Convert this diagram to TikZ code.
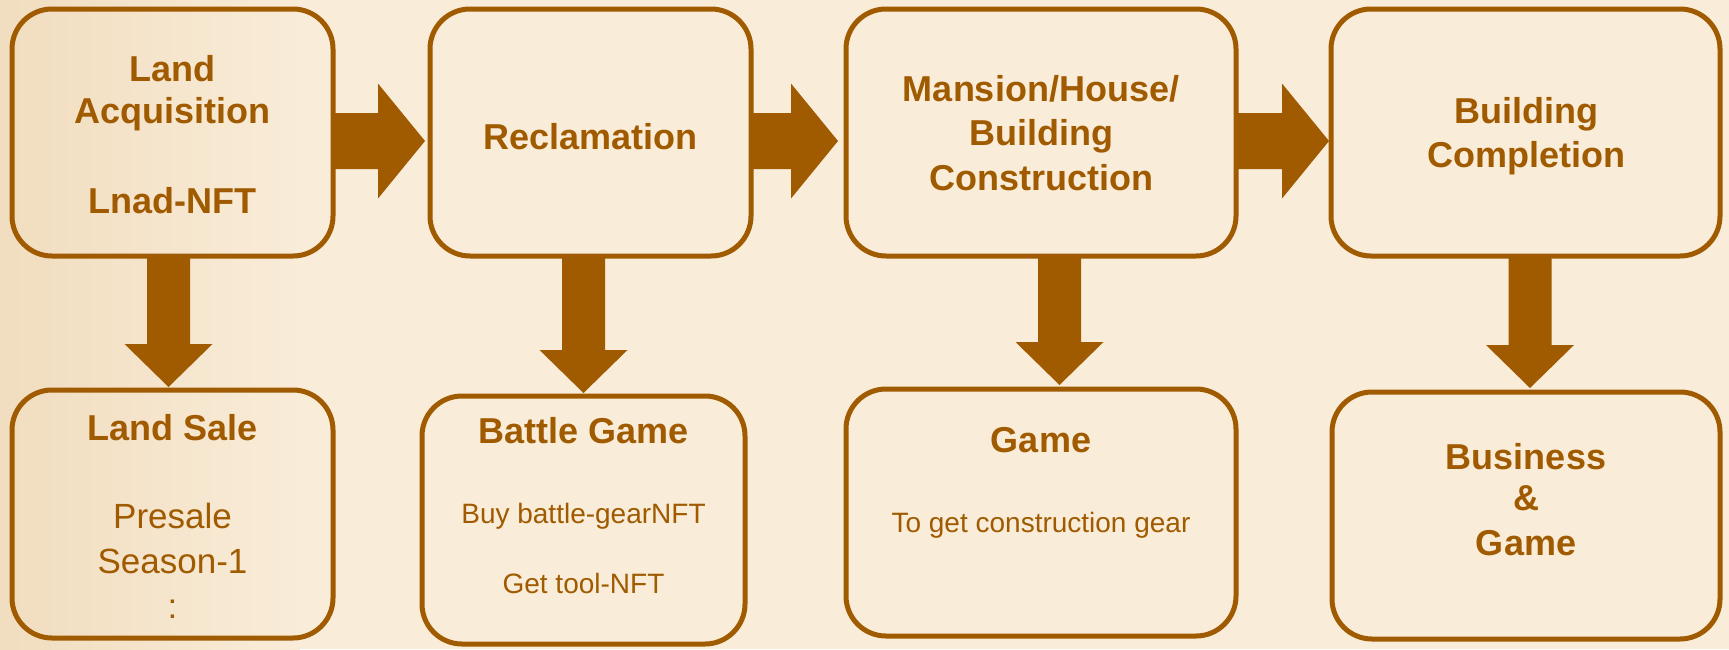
\documentclass[tikz,border=0pt]{standalone}
\usepackage{fontspec}
\setmainfont{Liberation Sans}
\usetikzlibrary{calc}

\definecolor{parch}{HTML}{F9ECD8}
\definecolor{parchdark}{HTML}{F1DDBF}
\definecolor{rust}{HTML}{A05A00}

% boxes are given by their stroke-centre size, in pixels (1px = 0.5pt)
\tikzset{
  stage/.style 2 args={draw=rust, line width=2.5pt, rounded corners=20pt,
    outer sep=0pt, inner sep=0pt,
    minimum width=#1*0.5pt, minimum height=#2*0.5pt},
  head/.style={anchor=base, text=rust, font=\bfseries\fontsize{18}{21}\selectfont, inner sep=0pt},
  body/.style={anchor=base, text=rust, font=\fontsize{14}{17}\selectfont, inner sep=0pt},
  bodybig/.style={anchor=base, text=rust, font=\fontsize{17.5}{20}\selectfont, inner sep=0pt},
  flow/.style={fill=rust}
}

% thick block arrow pointing right: from node, to node, row (px), gap before target
\newcommand{\flowright}[4]{%
  \coordinate (#1-#2-y) at (0,#3);
  \coordinate (#1-#2-s) at (#1.east |- #1-#2-y);
  \coordinate (#1-#2-t) at ($(#2.west |- #1-#2-y)+(-#4,0)$);
  \fill[flow] ($(#1-#2-s)+(0,-28)$) -- ($(#1-#2-t)+(-47,-28)$)
    -- ($(#1-#2-t)+(-47,-57.5)$) -- (#1-#2-t) -- ($(#1-#2-t)+(-47,57.5)$)
    -- ($(#1-#2-t)+(-47,28)$) -- ($(#1-#2-s)+(0,28)$) -- cycle;}

% thick block arrow pointing down: from node, to node, column (px), gap before target
\newcommand{\flowdown}[4]{%
  \coordinate (#1-#2-x) at (#3,0);
  \coordinate (#1-#2-s) at (#1.south -| #1-#2-x);
  \coordinate (#1-#2-t) at ($(#2.north -| #1-#2-x)+(0,-#4)$);
  \fill[flow] ($(#1-#2-s)+(-21.5,0)$) -- ($(#1-#2-t)+(-21.5,-43)$)
    -- ($(#1-#2-t)+(-44,-43)$) -- (#1-#2-t) -- ($(#1-#2-t)+(44,-43)$)
    -- ($(#1-#2-t)+(21.5,-43)$) -- ($(#1-#2-s)+(21.5,0)$) -- cycle;}

\begin{document}
\begin{tikzpicture}[x=0.5pt, y=-0.5pt]
  % parchment ground, a little darker towards the left edge
  \fill[parch] (0,0) rectangle (1729,649);
  \shade[left color=parchdark, right color=parch] (0,0) rectangle (300,649);
  \useasboundingbox (0,0) rectangle (1729,649);

  % upper row of stages
  \node[stage={321}{247}] (B1) at (172.5,132.5) {};
  \node[stage={321}{247}] (B2) at (590.5,132.5) {};
  \node[stage={390}{247}] (B3) at (1041,132.5) {};
  \node[stage={389}{247}] (B4) at (1525.5,132.5) {};

  % lower row of outcomes
  \node[stage={321}{248}] (L1) at (172.5,514) {};
  \node[stage={323}{248}] (L2) at (583.5,520) {};
  \node[stage={390}{247}] (L3) at (1041,512.5) {};
  \node[stage={388}{247}] (L4) at (1526,515.5) {};

  % upper row texts
  \node[head] (t1a) at (172.5,81) {Land};
  \node[head] (t1b) at (172.5,123) {Acquisition};
  \node[head] (t1c) at (172.5,213) {Lnad-NFT};
  \node[head] (t2a) at (590.5,149) {Reclamation};
  \node[head] (t3a) at (1041,101) {Mansion/House/};
  \node[head] (t3b) at (1041,145) {Building};
  \node[head] (t3c) at (1041,190) {Construction};
  \node[head] (t4a) at (1526,123) {Building};
  \node[head] (t4b) at (1526,167) {Completion};

  % lower row texts
  \node[head] (u1a) at (172.5,440) {Land Sale};
  \node[bodybig] (u1b) at (172.5,528) {Presale};
  \node[bodybig] (u1c) at (172.5,573) {Season-1};
  \node[bodybig] (u1d) at (172.5,618) {:};
  \node[head] (u2a) at (583.5,443) {Battle Game};
  \node[body] (u2b) at (583.5,523) {Buy battle-gearNFT};
  \node[body] (u2c) at (583.5,593) {Get tool-NFT};
  \node[head] (u3a) at (1041,452) {Game};
  \node[body] (u3b) at (1041,532) {To get construction gear};
  \node[head] (u4a) at (1526,469) {Business};
  \node[head] (u4b) at (1526,510) {\&};
  \node[head] (u4c) at (1526,555) {Game};

  % flow along the upper row
  \flowright{B1}{B2}{141}{5}
  \flowright{B2}{B3}{141}{8}
  \flowright{B3}{B4}{141}{2}

  % each stage leads down to its outcome
  \flowdown{B1}{L1}{168.5}{3}
  \flowdown{B2}{L2}{583.5}{3}
  \flowdown{B3}{L3}{1059.5}{4}
  \flowdown{B4}{L4}{1530}{4}
\end{tikzpicture}
\end{document}
